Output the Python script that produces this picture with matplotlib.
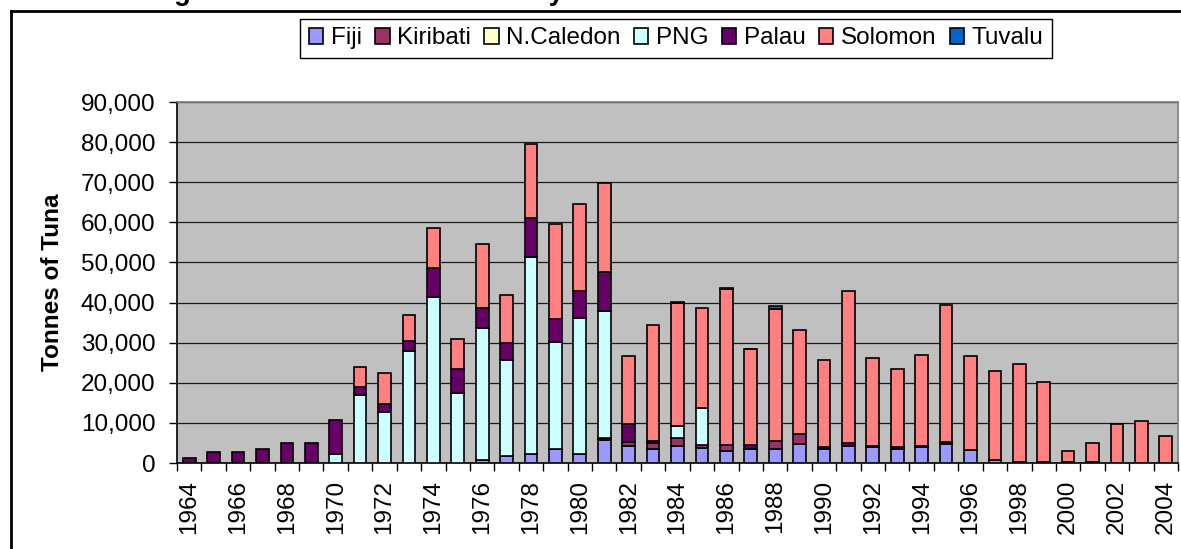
import matplotlib
matplotlib.use("Agg")
import matplotlib.pyplot as plt
from matplotlib.patches import Patch
from matplotlib.lines import Line2D
import numpy as np

plt.rcParams['font.family'] = ['Liberation Sans', 'DejaVu Sans']

# Years 1964-2004
years = list(range(1964, 2005))

fiji = [0, 0, 0, 0, 0, 0, 0, 0, 0, 0, 0, 0,
        800, 1700, 2250, 3600, 2150, 5800, 4300, 3500, 4300, 3700, 3100, 3600, 3600,
        4800, 3500, 4300, 4000, 3500, 4000, 4700, 3200, 800,
        0, 0, 0, 0, 0, 0, 0]
kiribati = [0, 0, 0, 0, 0, 0, 0, 0, 0, 0, 0, 0,
            0, 0, 0, 0, 0, 500, 1000, 1500, 2000, 800, 1500, 0, 1800,
            2400, 0, 0, 0, 0, 0, 0, 0, 0,
            0, 0, 0, 0, 0, 0, 0]
ncaledon = [0] * 41
png = [0, 0, 0, 0, 0, 0, 2200, 17000, 12800, 28000, 41500, 17500,
       32900, 24100, 49100, 26600, 34100, 31500, 0, 0, 2800, 9150, 0, 0, 0,
       0, 0, 0, 0, 0, 0, 0, 0, 0,
       0, 0, 0, 0, 0, 0, 0]
palau = [1250, 2750, 2750, 3600, 5100, 5100, 8400, 1900, 2000, 2400, 7000, 6000,
         5000, 4150, 9750, 5750, 6650, 9700, 4400, 500, 0, 0, 0, 900, 0,
         0, 400, 600, 300, 500, 300, 600, 0, 0,
         300, 300, 300, 300, 0, 0, 0]
solomon = [0, 0, 0, 0, 0, 0, 0, 5100, 7750, 6400, 10150, 7400,
           15800, 12000, 18500, 23550, 21700, 22200, 17000, 29000, 30800, 25000, 38900, 23800, 32900,
           26000, 21900, 37900, 21800, 19500, 22600, 34100, 23400, 22100,
           24500, 19900, 2800, 4700, 9600, 10500, 6800]
tuvalu = [0, 0, 0, 0, 0, 0, 0, 0, 0, 0, 0, 0,
          0, 0, 0, 0, 0, 0, 0, 0, 200, 0, 200, 200, 800,
          0, 0, 0, 0, 0, 0, 0, 0, 0,
          0, 0, 0, 0, 0, 0, 0]

names = ["Fiji", "Kiribati", "N.Caledon", "PNG", "Palau", "Solomon", "Tuvalu"]
series = [fiji, kiribati, ncaledon, png, palau, solomon, tuvalu]
colors = ["#9999FF", "#993366", "#FFFFCC", "#CCFFFF", "#660066", "#FF8080", "#0066CC"]

W, H = 1181, 549
fig = plt.figure(figsize=(W / 100, H / 100), dpi=100)
ax = fig.add_axes([177 / W, 1 - 463 / H, 1001 / W, 361 / H])
ax.set_facecolor("#C0C0C0")

x = np.arange(len(years))
bottom = np.zeros(len(years))
for vals, c in zip(series, colors):
    v = np.array(vals, dtype=float)
    mask = v > 0
    ax.bar(x[mask], v[mask], width=0.52, bottom=bottom[mask], color=c,
           edgecolor="black", linewidth=1.2, zorder=3)
    bottom += v

ax.set_xlim(-0.5, len(years) - 0.5)
ax.set_ylim(0, 90000)
ax.set_yticks(range(0, 90001, 10000))
ax.set_yticklabels([f"{v:,}" for v in range(0, 90001, 10000)], fontsize=17.5)
ax.yaxis.grid(True, color="#1a1a1a", linewidth=0.9, zorder=1)
ax.set_axisbelow(True)

# tick marks between categories, labels on every other year
ax.set_xticks(np.arange(-0.5, len(years), 1.0))
ax.set_xticklabels([])
ax.set_xticks(x[::2], minor=True)
ax.set_xticklabels([str(y) for y in years[::2]], minor=True, rotation=90, fontsize=17.5)
ax.tick_params(axis="x", which="major", length=6, width=1, direction="out")
ax.tick_params(axis="x", which="minor", length=0, pad=12)
ax.tick_params(axis="y", length=6, width=1, direction="out", pad=9.5)

for s in ["top", "right"]:
    ax.spines[s].set_color("#808080")
    ax.spines[s].set_linewidth(1.2)
for s in ["left", "bottom"]:
    ax.spines[s].set_color("black")
    ax.spines[s].set_linewidth(1.2)

ax.set_ylabel("Tonnes of Tuna", fontsize=17.5, fontweight="bold")
ax.yaxis.set_label_coords((64 - 177) / 1001, 0.5)

handles = [Patch(facecolor=c, edgecolor="black", linewidth=1.2) for c in colors]
leg = fig.legend(handles, names, loc="center", bbox_to_anchor=(676 / W, 1 - 38.5 / H),
                 ncol=7, fontsize=17.5, frameon=True, fancybox=False, framealpha=1,
                 edgecolor="black", handlelength=0.6, handleheight=0.6,
                 handletextpad=0.3, columnspacing=0.55, borderpad=0.35)
leg.get_frame().set_linewidth(1.0)

# outer chart frame and clipped title
fig.add_artist(Line2D([11 / W, 1], [1 - 11 / H, 1 - 11 / H], color="black", lw=2))
fig.add_artist(Line2D([11 / W, 11 / W], [0, 1 - 11 / H], color="black", lw=2))
fig.text(150 / W, 1 + 0.5 / H, "Figure 5: Pole-and-line Catch by Nation",
         fontsize=19.5, fontweight="bold", va="baseline", ha="left")

fig.savefig("out.png", dpi=100)
